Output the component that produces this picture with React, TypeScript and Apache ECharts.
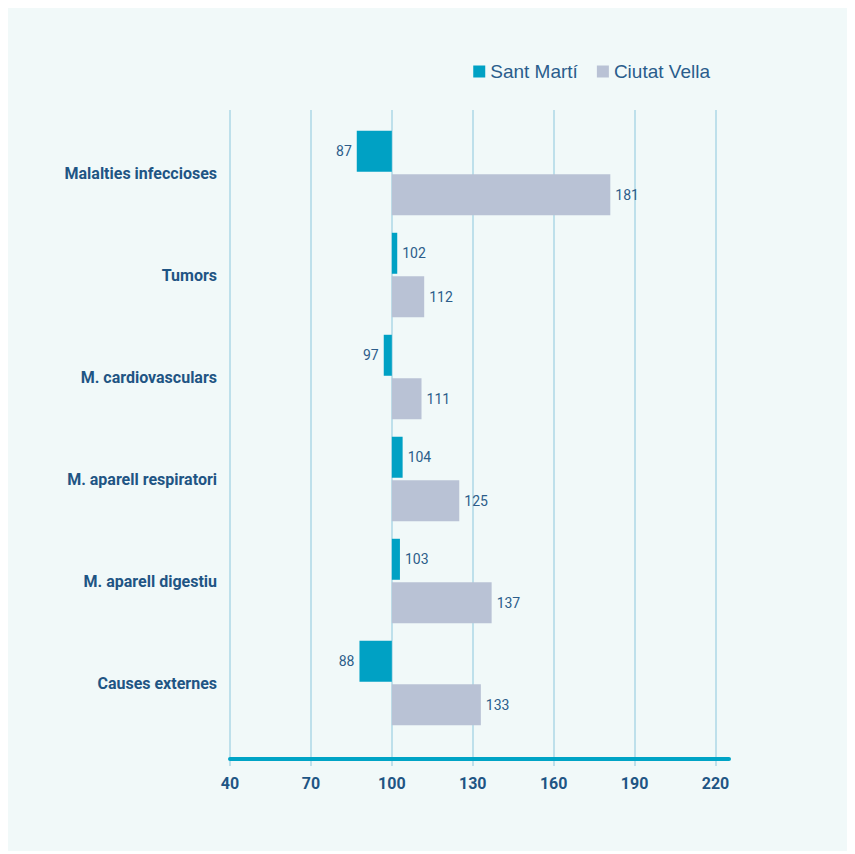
import React, { useEffect, useRef } from "react";
import * as echarts from "echarts";

const categories = [
  "Malalties infeccioses",
  "Tumors",
  "M. cardiovasculars",
  "M. aparell respiratori",
  "M. aparell digestiu",
  "Causes externes",
];
const santMarti = [87, 102, 97, 104, 103, 88];
const ciutatVella = [181, 112, 111, 125, 137, 133];
const seriesNames = ["Sant Martí", "Ciutat Vella"];
const seriesColors = ["#00a1c4", "#b9c2d5"];
const axisMin = 40;
const axisMax = 225;
const axisStep = 30;
const baseline = 100;

const labelFont = "Roboto, 'DejaVu Sans Condensed', sans-serif";
const textBlue = "#1f5584";

function buildSeries(name: string, values: number[], color: string, stack: string) {
  return [
    {
      type: "bar",
      stack,
      xAxisIndex: 1,
      yAxisIndex: 1,
      silent: true,
      barWidth: 41,
      barGap: "6%",
      itemStyle: { color: "transparent" },
      data: values.map((v) => Math.min(v, baseline) - axisMin),
    },
    {
      name,
      type: "bar",
      stack,
      xAxisIndex: 1,
      yAxisIndex: 1,
      barWidth: 41,
      barGap: "6%",
      itemStyle: { color },
      label: {
        show: true,
        distance: 5,
        color: "#2c5d8a",
        fontFamily: labelFont,
        fontSize: 14,
        formatter: (p: any) => String(values[p.dataIndex]),
      },
      data: values.map((v) => ({
        value: Math.abs(v - baseline),
        label: { position: v < baseline ? "left" : "right" },
      })),
    },
  ];
}

export default function App() {
  const ref = useRef<HTMLDivElement>(null);
  useEffect(() => {
    if (!ref.current) return;
    const chart = echarts.init(ref.current, undefined, { renderer: "svg" });
    const span = axisMax - axisMin;
    chart.setOption({
      animation: false,
      backgroundColor: "#f1f9f9",
      legend: {
        data: seriesNames,
        right: 134,
        top: 49,
        icon: "rect",
        itemWidth: 12,
        itemHeight: 12,
        itemGap: 19,
        textStyle: {
          color: "#2a5d8c",
          fontSize: 19,
          fontFamily: "'Liberation Sans', Arial, sans-serif",
        },
      },
      grid: [
        { left: 224, width: 499, top: 102, height: 656 },
        { left: 224, width: 499, top: 114, height: 612 },
      ],
      xAxis: [
        {
          gridIndex: 0,
          type: "value",
          min: 0,
          max: span,
          interval: axisStep,
          axisLine: { show: true, onZero: true, lineStyle: { color: "#00a4c6", width: 4 } },
          axisTick: { show: false },
          splitLine: {
            show: true,
            showMaxLine: false,
            lineStyle: { color: "#acd7e6", width: 1.5 },
          },
          axisLabel: {
            margin: 9,
            showMaxLabel: false,
            color: textBlue,
            fontFamily: labelFont,
            fontWeight: "bold",
            fontSize: 16,
            formatter: (v: number) => String(v + axisMin),
          },
        },
        {
          gridIndex: 1,
          type: "value",
          min: 0,
          max: span,
          show: false,
          splitLine: { show: false },
        },
      ],
      yAxis: [
        { gridIndex: 0, type: "value", min: -7, max: 649, show: false, splitLine: { show: false } },
        {
          gridIndex: 1,
          type: "category",
          inverse: true,
          data: categories,
          axisLine: { show: false },
          axisTick: { show: false },
          splitLine: { show: false },
          axisLabel: {
            margin: 13,
            color: textBlue,
            fontFamily: labelFont,
            fontWeight: "bold",
            fontSize: 16,
          },
        },
      ],
      series: [
        ...buildSeries(seriesNames[0], santMarti, seriesColors[0], "a"),
        ...buildSeries(seriesNames[1], ciutatVella, seriesColors[1], "b"),
      ],
    });
    return () => chart.dispose();
  }, []);
  return (
    <div
      ref={ref}
      style={{ width: 843, height: 843, marginLeft: -2, background: "#f1f9f9" }}
    />
  );
}
